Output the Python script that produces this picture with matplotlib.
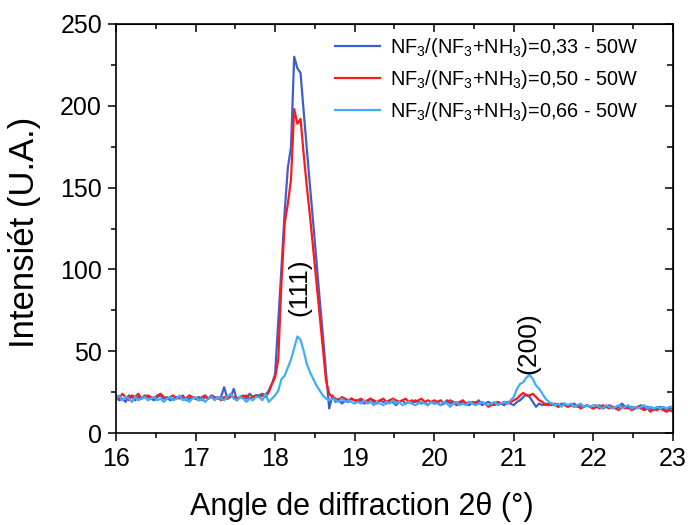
import numpy as np
import matplotlib
matplotlib.use('Agg')
import matplotlib.pyplot as plt
from matplotlib.ticker import MultipleLocator

plt.rcParams['font.family'] = ['Liberation Sans', 'DejaVu Sans']
plt.rcParams['mathtext.default'] = 'regular'

# 2theta grid, 0.04 deg step
two_theta = np.round(np.arange(16.0, 23.001, 0.04), 2)

# NF3/(NF3+NH3)=0,33
i_033 = [
    22, 20, 21, 19, 23, 22, 20, 22, 21, 23, 22, 21, 20, 22, 23, 21, 22, 20, 21, 22, 21, 23, 20, 21, 22,
    21, 22, 20, 22, 21, 23, 22, 21, 22, 28, 21, 22, 27, 20, 22, 23, 21, 24, 22, 23,
    23, 24, 23, 26, 30, 36, 68, 101, 135, 162, 175, 230, 223, 220, 196, 173, 150, 128, 105, 82, 60, 37, 15, 23,
    19, 21, 18, 20, 19, 21, 20,
    19, 20, 18, 19, 21, 19, 18, 20, 19, 18, 20, 19, 17, 19, 20, 18, 19, 18, 20, 19, 18, 19, 17, 19, 18,
    19, 17, 18, 20, 18, 19, 17, 18, 19, 18, 17, 19, 18, 20, 17, 18, 19, 18, 17, 19, 18, 17, 19, 18, 17,
    19, 20, 22, 23.5, 22, 19, 16, 18, 17, 18, 17, 18, 17, 16, 18, 17, 16, 17, 18, 16, 17, 16, 17, 16, 15,
    16, 17, 15, 16, 17, 16, 15, 16, 18, 16, 15, 16, 15, 16, 17, 15, 16, 15, 14, 15, 16, 15, 14, 15, 15,
]

# NF3/(NF3+NH3)=0,50
i_050 = [
    23, 21, 24, 22, 20, 23, 22, 24, 21, 22, 23, 22, 21, 23, 24, 22, 21, 22, 23, 21, 22, 22, 21, 23, 22,
    21, 20, 22, 23, 21, 22, 21, 22, 20, 22, 21, 23, 22, 21, 22, 22, 23, 21, 22, 23,
    22, 23, 22, 25, 30, 34, 45, 92, 128, 140, 155, 198, 189, 192, 170, 150, 132, 112, 92, 72, 52, 32, 24, 22,
    21, 20, 22, 21, 20, 21, 20,
    20, 21, 19, 20, 21, 20, 19, 20, 21, 19, 20, 21, 20, 19, 20, 21, 19, 20, 19, 20, 21, 19, 20, 19, 20,
    19, 20, 18, 19, 20, 19, 18, 19, 20, 18, 19, 18, 19, 18, 19, 18, 16, 17, 18, 19, 18, 19, 18, 19, 20,
    21, 23, 24.5, 23, 23, 24, 22, 20, 19, 17, 18, 17, 18, 16, 17, 18, 16, 17, 16, 17, 15, 16, 17, 16, 15,
    16, 15, 17, 16, 15, 16, 15, 14, 16, 15, 16, 14, 15, 16, 15, 14, 15, 13, 15, 14, 15, 14, 13, 14, 13,
]

# NF3/(NF3+NH3)=0,66
i_066 = [
    21, 23, 20, 22, 21, 19, 22, 20, 21, 22, 20, 21, 22, 20, 21, 19, 21, 22, 20, 21, 23, 20, 21, 19, 21,
    22, 20, 21, 19, 21, 22, 20, 22, 21, 20, 22, 24, 21, 20, 22, 21, 19, 21, 20, 22,
    22, 20, 24, 19, 21, 23, 26, 33, 35, 40, 45, 52, 59, 57, 50, 42, 37, 33, 29, 26, 23, 21, 20, 21,
    20, 19, 21, 19, 20, 19, 18,
    19, 18, 20, 18, 19, 17, 19, 18, 17, 19, 18, 20, 18, 19, 17, 18, 19, 18, 17, 18, 19, 18, 17, 19, 18,
    18, 17, 19, 18, 16, 18, 19, 17, 18, 17, 19, 18, 17, 18, 19, 18, 17, 18, 19, 17, 18, 19, 18, 20, 22,
    27, 30, 31, 34, 35.5, 33, 29, 27, 24, 21, 19, 18, 17, 18, 16, 18, 17, 18, 16, 17, 18, 16, 17, 16, 17,
    17, 16, 15, 17, 16, 15, 16, 17, 15, 16, 17, 15, 16, 15, 16, 17, 15, 16, 15, 16, 15, 16, 15, 16, 16,
]

labels = [r'NF$_3$/(NF$_3$+NH$_3$)=0,33 - 50W',
          r'NF$_3$/(NF$_3$+NH$_3$)=0,50 - 50W',
          r'NF$_3$/(NF$_3$+NH$_3$)=0,66 - 50W']
colors = ['#3D5FCC', '#FF1A1A', '#40ADF5']

fig = plt.figure(figsize=(6.88, 5.25), dpi=100)
ax = fig.add_axes([0.1686, 0.1752, 0.8094, 0.7791])

for y, lab, c in zip([i_033, i_050, i_066], labels, colors):
    ax.plot(two_theta, y, color=c, lw=1.6, label=lab)

ax.set_xlim(16, 23)
ax.set_ylim(0, 250)
ax.xaxis.set_major_locator(MultipleLocator(1))
ax.xaxis.set_minor_locator(MultipleLocator(0.5))
ax.yaxis.set_major_locator(MultipleLocator(50))
ax.yaxis.set_minor_locator(MultipleLocator(25))

# Origin-like ticks: out on bottom/left, in on top/right
ax.tick_params(which='both', direction='out', width=1.1, labelsize=18, pad=4)
ax.tick_params(which='major', length=6)
ax.tick_params(which='minor', length=3.5)
for sp in ax.spines.values():
    sp.set_linewidth(1.2)
ax2 = ax.secondary_xaxis('top')
ax2.xaxis.set_major_locator(MultipleLocator(1))
ax2.xaxis.set_minor_locator(MultipleLocator(0.5))
ax2.tick_params(which='both', direction='in', width=1.1, labeltop=False)
ax2.tick_params(which='major', length=6)
ax2.tick_params(which='minor', length=3.5)
ay2 = ax.secondary_yaxis('right')
ay2.yaxis.set_major_locator(MultipleLocator(50))
ay2.yaxis.set_minor_locator(MultipleLocator(25))
ay2.tick_params(which='both', direction='in', width=1.1, labelright=False)
ay2.tick_params(which='major', length=6)
ay2.tick_params(which='minor', length=4.5)

ax.set_xlabel('Angle de diffraction 2θ (°)', fontsize=22)
ax.xaxis.set_label_coords(0.442, -0.145)
ax.set_ylabel('Intensiét (U.A.)', fontsize=25)
ax.yaxis.set_label_coords(-0.135, 0.49)

ax.text(18.31, 89, '(111)', rotation=90, fontsize=19, ha='center', va='center')
ax.text(21.19, 55, '(200)', rotation=90, fontsize=19, ha='center', va='center')

ax.legend(loc='upper right', frameon=False, fontsize=14.3, handlelength=2.3,
          handletextpad=0.5, labelspacing=0.45, borderaxespad=0.2,
          bbox_to_anchor=(0.96, 1.0))

fig.savefig('out.png', dpi=100)
